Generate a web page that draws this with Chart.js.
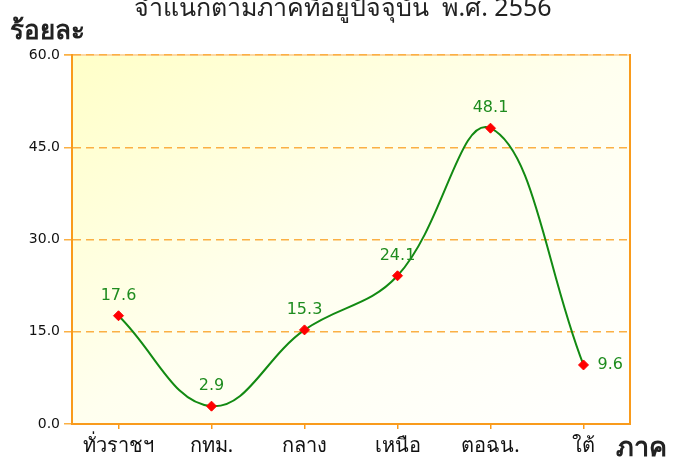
<!DOCTYPE html>
<html>
<head>
<meta charset="utf-8">
<script src="https://cdn.jsdelivr.net/npm/chart.js@4/dist/chart.umd.min.js"></script>
<style>
	html, body { margin: 0; padding: 0; background: #fff; }
	#wrap { width: 675px; height: 459px; position: relative; }
</style>
</head>
<body>
<div id="wrap"><canvas id="myChart" width="675" height="459"></canvas></div>
<script>
let regions = ["ทั่วราชฯ", "กทม.", "กลาง", "เหนือ", "ตอฉน.", "ใต้"];
let percent = [17.6, 2.9, 15.3, 24.1, 48.1, 9.6];
let yTicks = [0, 15, 30, 45, 60];

let titleText = "จำแนกตามภาคที่อยู่ปัจจุบัน  พ.ศ. 2556";
let yTitle = "ร้อยละ";
let xTitle = "ภาค";

let orange = "#F99B1C";
let dashOrange = "#FBB044";
let thaiFont = "'Noto Sans', 'DejaVu Sans', sans-serif";

// yellow fade behind the plot + frame, titles and value labels
let backgroundPlugin = {
	id: "plotBackground",
	beforeDraw(chart) {
		let a = chart.chartArea;
		let ctx = chart.ctx;
		let w = a.right - a.left;
		let h = a.bottom - a.top;
		let d = Math.sqrt(w * w + h * h);
		let k = (2 * w * h) / (d * d);
		let g = ctx.createLinearGradient(a.left, a.top, a.left + h * k, a.top + w * k);
		g.addColorStop(0, "#FFFFC8");
		g.addColorStop(0.5, "#FFFFEF");
		g.addColorStop(1, "#FFFFFF");
		ctx.save();
		ctx.fillStyle = g;
		ctx.fillRect(a.left, a.top, w, h);
		// pale line under the dashed top gridline
		ctx.strokeStyle = "#FCD9A6";
		ctx.lineWidth = 2;
		ctx.beginPath();
		ctx.moveTo(a.left - 8, a.top);
		ctx.lineTo(a.right, a.top);
		ctx.stroke();
		ctx.restore();
	},
	afterDraw(chart) {
		let a = chart.chartArea;
		let ctx = chart.ctx;
		ctx.save();
		ctx.strokeStyle = orange;
		ctx.lineWidth = 2;
		ctx.beginPath();
		ctx.moveTo(a.right, a.top - 1);
		ctx.lineTo(a.right, a.bottom + 1);
		ctx.stroke();

		// titles
		ctx.fillStyle = "#222";
		ctx.textAlign = "center";
		ctx.textBaseline = "alphabetic";
		ctx.font = "25px " + thaiFont;
		ctx.fillText(titleText, 343, 16);
		ctx.textAlign = "left";
		ctx.font = "bold 26px " + thaiFont;
		ctx.fillText(yTitle, 10, 39);
		ctx.font = "bold 27px " + thaiFont;
		ctx.fillText(xTitle, 616, 456);

		// value labels
		let meta = chart.getDatasetMeta(0);
		ctx.fillStyle = "#1E8C1E";
		ctx.font = "16px 'DejaVu Sans', sans-serif";
		ctx.textBaseline = "middle";
		meta.data.forEach((pt, i) => {
			let label = percent[i].toFixed(1);
			if (i === percent.length - 1) {
				ctx.textAlign = "left";
				ctx.fillText(label, pt.x + 14, pt.y);
			} else {
				ctx.textAlign = "center";
				ctx.fillText(label, pt.x, pt.y - 20);
			}
		});
		ctx.restore();
	},
};

var ctx = document.getElementById("myChart").getContext("2d");
var chart = new Chart(ctx, {
	type: "line",
	data: {
		labels: regions,
		datasets: [
			{
				data: percent,
				borderColor: "#128A12",
				borderWidth: 2,
				tension: 0.4,
				pointStyle: "rectRot",
				pointRadius: 5,
				pointBackgroundColor: "#FF0000",
				pointBorderColor: "#FF0000",
				pointBorderWidth: 1,
			},
		],
	},
	options: {
		responsive: false,
		animation: false,
		layout: { padding: { top: 55, right: 45, left: 0, bottom: 0 } },
		plugins: {
			legend: { display: false },
			tooltip: { enabled: false },
		},
		scales: {
			x: {
				offset: true,
				afterFit: (s) => { s.height = 35; },
				grid: {
					drawOnChartArea: false,
					drawTicks: true,
					tickLength: 5,
					color: orange,
					lineWidth: 1.5,
				},
				border: { color: orange, width: 2 },
				ticks: {
					color: "#111",
					padding: 5,
					font: { family: thaiFont, size: 20 },
					maxRotation: 0,
				},
			},
			y: {
				min: 0,
				max: 60,
				afterFit: (s) => { s.width = 72; },
				afterBuildTicks: (s) => { s.ticks = yTicks.map((v) => ({ value: v })); },
				grid: {
					color: dashOrange,
					lineWidth: 1.5,
					tickLength: 8,
					tickColor: dashOrange,
				},
				border: { color: orange, width: 2, dash: [8, 5] },
				ticks: {
					color: "#111",
					padding: 4,
					font: { family: "'DejaVu Sans', sans-serif", size: 14 },
					callback: (v) => Number(v).toFixed(1),
				},
			},
		},
	},
	plugins: [backgroundPlugin],
});
</script>
</body>
</html>
